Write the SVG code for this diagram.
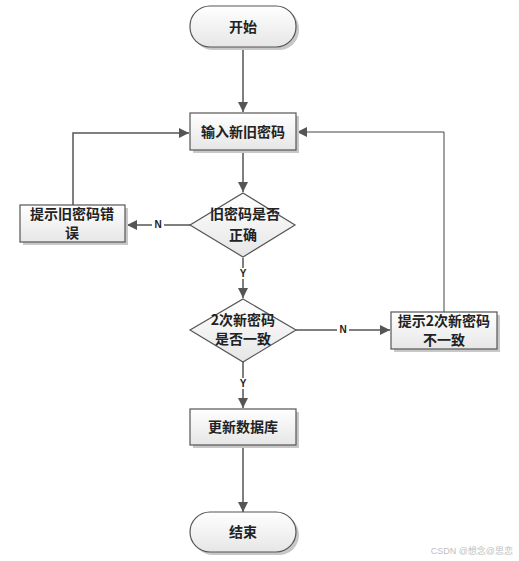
<svg xmlns="http://www.w3.org/2000/svg" width="519" height="561" viewBox="0 0 519 561">
<style>
.node{fill:url(#g);stroke:#555;stroke-width:1.2}
.sh{fill:#c8c8c8}
.t{font-family:"Noto Sans CJK SC","Liberation Serif",serif;font-size:14px;font-weight:bold;fill:#222;text-anchor:middle}
.lbl{font-family:"Liberation Sans",sans-serif;font-size:10px;font-weight:bold;fill:#222;text-anchor:middle}
.c{fill:none;stroke:#555;stroke-width:1.5}
.c2{fill:none;stroke:#444;stroke-width:1}
</style>
<defs>
<linearGradient id="g" x1="0" y1="0" x2="0" y2="1">
<stop offset="0" stop-color="#ffffff"/>
<stop offset="1" stop-color="#e6e6e6"/>
</linearGradient>
<marker id="a" viewBox="0 0 10 10" refX="10" refY="5" markerWidth="10" markerHeight="10" markerUnits="userSpaceOnUse" orient="auto">
<path d="M0,0 L10,5 L0,10 z" fill="#555"/>
</marker>
</defs>
<rect width="519" height="561" fill="#fff"/>
<g id="connectors">
<path class="c" d="M243,48 V112" marker-end="url(#a)"/>
<path class="c" d="M243,151 V192" marker-end="url(#a)"/>
<path class="c" d="M190,225 H127" marker-end="url(#a)"/>
<rect x="152" y="219" width="12" height="11" fill="#fff"/>
<text class="lbl" x="158" y="228">N</text>
<path class="c" d="M73,205 V133 H189" marker-end="url(#a)"/>
<path class="c" d="M243,258 V298" marker-end="url(#a)"/>
<rect x="237" y="268" width="12" height="11" fill="#fff"/>
<text class="lbl" x="243" y="277">Y</text>
<path class="c" d="M296,330 H390" marker-end="url(#a)"/>
<rect x="337" y="324" width="12" height="11" fill="#fff"/>
<text class="lbl" x="343" y="333">N</text>
<path class="c2" d="M444,312 V132 H297" marker-end="url(#a)"/>
<path class="c" d="M243,362 V408" marker-end="url(#a)"/>
<rect x="237" y="378" width="12" height="11" fill="#fff"/>
<text class="lbl" x="243" y="387">Y</text>
<path class="c" d="M243,446 V512" marker-end="url(#a)"/>
</g>
<g id="start">
<rect class="sh" x="193" y="9" width="106" height="41" rx="20" ry="20"/>
<rect class="node" x="190" y="6" width="106" height="41" rx="20" ry="20"/>
<text class="t" x="243" y="31.5">开始</text>
</g>
<g id="input">
<rect class="sh" x="193" y="116" width="106" height="37"/>
<rect class="node" x="190" y="113" width="106" height="37"/>
<text class="t" x="243" y="136.5">输入新旧密码</text>
</g>
<g id="check-old">
<path class="node" d="M243,193 L295,225 L243,257 L190,225 Z"/>
<text class="t" x="245" y="219">旧密码是否</text>
<text class="t" x="243" y="240">正确</text>
</g>
<g id="old-error">
<rect class="sh" x="23" y="208" width="105" height="37"/>
<rect class="node" x="20" y="205" width="105" height="37"/>
<text class="t" x="72" y="219">提示旧密码错</text>
<text class="t" x="72" y="238">误</text>
</g>
<g id="check-new">
<path class="node" d="M243,299 L296,330 L243,362 L190,330 Z"/>
<text class="t" x="243" y="325">2次新密码</text>
<text class="t" x="243" y="344">是否一致</text>
</g>
<g id="new-mismatch">
<rect class="sh" x="394" y="315" width="106" height="37"/>
<rect class="node" x="391" y="312" width="106" height="37"/>
<text class="t" x="444" y="326">提示2次新密码</text>
<text class="t" x="444" y="345">不一致</text>
</g>
<g id="update">
<rect class="sh" x="193" y="412" width="106" height="36"/>
<rect class="node" x="190" y="409" width="106" height="36"/>
<text class="t" x="243" y="432">更新数据库</text>
</g>
<g id="end">
<rect class="sh" x="193" y="515" width="106" height="40" rx="20" ry="20"/>
<rect class="node" x="190" y="512" width="106" height="40" rx="20" ry="20"/>
<text class="t" x="243" y="537">结束</text>
</g>
<text x="513" y="554" font-family="'Liberation Sans','Noto Sans CJK SC',sans-serif" font-size="9" fill="#c0c0c0" text-anchor="end">CSDN @想念@思恋</text>
</svg>
